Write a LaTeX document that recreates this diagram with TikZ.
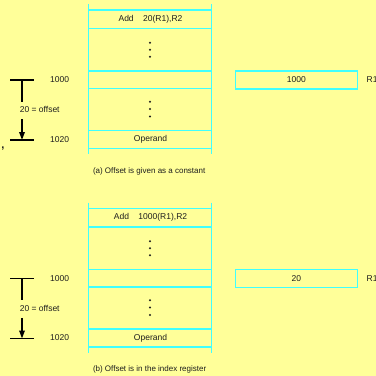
\documentclass[tikz,border=0pt]{standalone}
\usepackage{fontspec}
\setmainfont{Liberation Sans}
\usetikzlibrary{arrows.meta}
\definecolor{bgyellow}{RGB}{255,255,153}
\definecolor{memcyan}{RGB}{64,255,255}
\definecolor{ink}{RGB}{30,30,30}
\tikzset{
  memline/.style={draw=memcyan, line width=1.5pt},
  blackline/.style={draw=black, line width=1.6pt},
  lbl/.style={font=\fontsize{8.5}{10}\selectfont, text=ink, inner sep=0pt},
  regbox/.style={draw=memcyan, line width=1.5pt, minimum width=122pt, minimum height=17.7pt, inner sep=0pt, font=\fontsize{8.5}{10}\selectfont, text=ink},
  dotmark/.style={fill=ink, draw=none},
  offarrow/.style={blackline, -{Triangle[width=5.5pt,length=8pt]}}
}
\newcommand\drawpanel[5]{%
  % #1 suffix, #2 y shift, #3 instruction operand, #4 register value, #5 caption
  \begin{scope}[shift={(0,#2)}]
    % memory block
    \draw[memline] (88.3,4) -- (88.3,154);
    \draw[memline] (211.3,4) -- (211.3,154);
    \foreach \yy in {10,28.3,71,88.7,130.7,148.3}
      \draw[memline] (88.3,\yy) -- (211.3,\yy);
    \node[lbl] (instr-#1) at (150.5,19.2) {Add\hspace{9.5pt}#3};
    \foreach \yy in {42.8,49.8,56.8,101.8,109,116.4}
      \fill[dotmark] (150,\yy) circle (1.1pt);
    \node[lbl] (operand-#1) at (150.5,139.5) {Operand};
    % addresses
    \node[lbl, anchor=west] (a1000-#1) at (50,80) {1000};
    \node[lbl, anchor=west] (a1020-#1) at (50,139.5) {1020};
    % offset marker
    \coordinate (tl-#1) at (10,80);
    \coordinate (tr-#1) at (34.3,80);
    \coordinate (tm-#1) at (22,80);
    \coordinate (bl-#1) at (10,140);
    \coordinate (br-#1) at (34.3,140);
    \coordinate (bm-#1) at (22,140);
    \coordinate (ta-#1) at (22,101.7);
    \coordinate (ba-#1) at (22,119.3);
    \draw[blackline] (tl-#1) -- (tr-#1);
    \draw[blackline] (bl-#1) -- (br-#1);
    \draw[blackline] (tm-#1) -- (ta-#1);
    \node[lbl] (off-#1) at (39.7,109.5) {20 = offset};
    \draw[offarrow] (ba-#1) -- (bm-#1);
    % register
    \node[regbox] (reg-#1) at (296.3,79.9) {#4};
    \node[lbl, anchor=west] (r1-#1) at (366.5,80) {R1};
    % caption
    \node[lbl, anchor=west, font=\fontsize{8}{10}\selectfont] (cap-#1) at (92.8,171) {#5};
  \end{scope}}
\begin{document}
\begin{tikzpicture}[x=1pt,y=-1pt]
  \fill[bgyellow] (0,0) rectangle (376,376);
  \useasboundingbox (0,0) rectangle (376,376);
  \drawpanel{a}{0}{20(R1),R2}{1000}{(a) Offset is given as a constant}
  \drawpanel{b}{198.5}{1000(R1),R2}{20}{(b) Offset is in the index register}
  \node[lbl, font=\bfseries\fontsize{11}{12}\selectfont] (comma) at (3,149) {,};
\end{tikzpicture}
\end{document}
